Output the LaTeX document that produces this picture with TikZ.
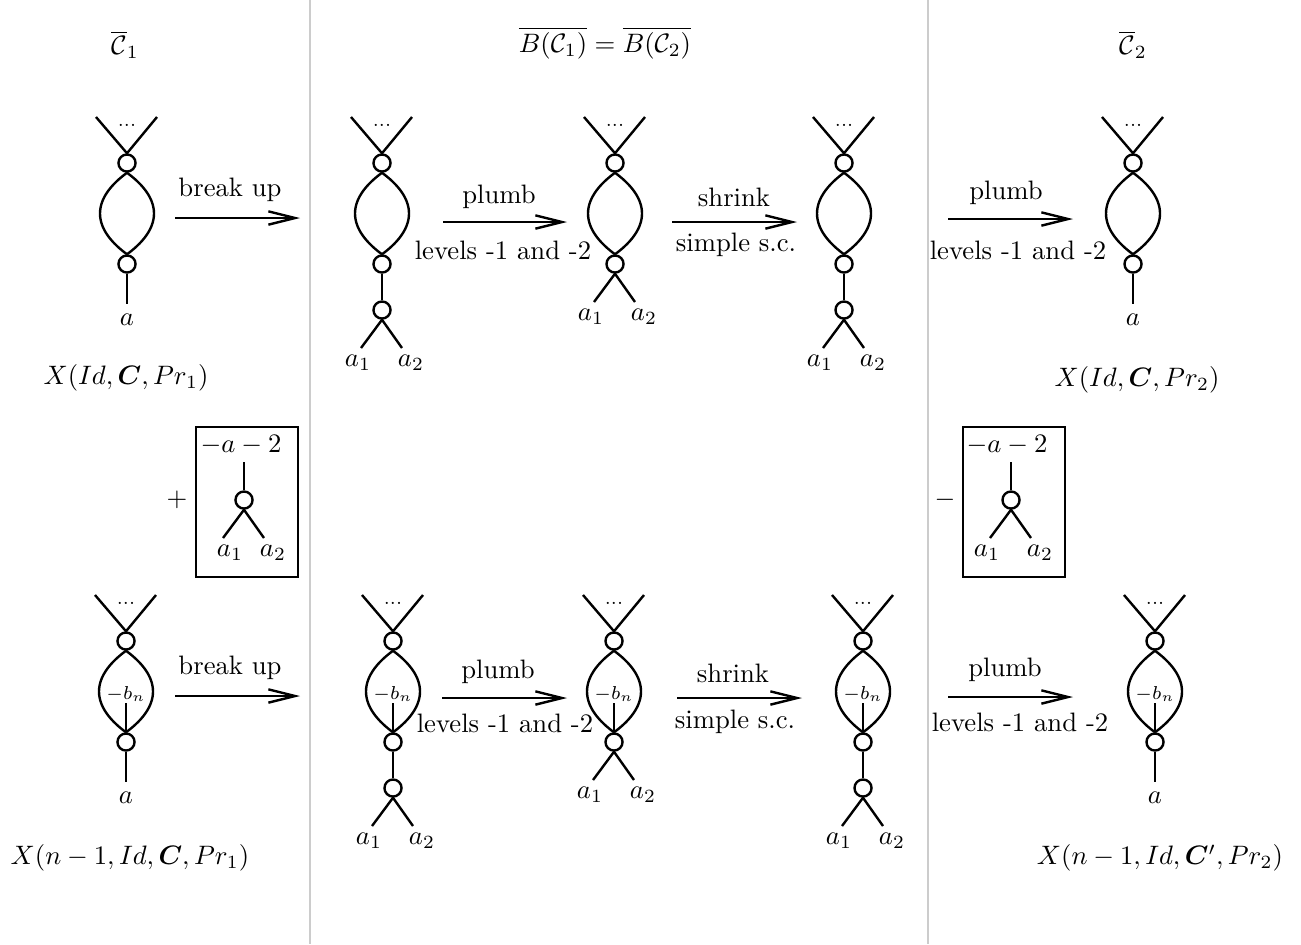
\documentclass[tikz,border=0pt]{standalone}
\usepackage{amsmath,amssymb,bm}
\usetikzlibrary{arrows.meta}
\tikzset{
  conn/.style={line width=0.9pt},
  vtx/.style={circle,draw,line width=0.9pt,minimum size=6.4pt,inner sep=0pt},
  arr/.style={line width=0.9pt,-{Straight Barb[length=10pt,width=5pt]}},
  divider/.style={draw=black!20,line width=0.8pt},
  boxst/.style={draw,line width=0.9pt,minimum width=38.2pt,minimum height=56.3pt,inner sep=0pt},
  lbl/.style={inner sep=1pt},
  small/.style={font=\scriptsize,inner sep=0.5pt},
}
\newcommand\GCore{%
  \node[vtx] (-t) at (0,0) {};
  \node[vtx] (-b) at (0,101) {};
  \coordinate (-l) at (-31,-46);
  \coordinate (-r) at (30,-46);
  \draw[conn] (-l) -- (-t.north) -- (-r);
  \node[small,anchor=base] (-d) at (0,-37) {...};
  \draw[conn] (-t.south) .. controls (-14,20) and (-27,34) .. (-27,50.5)
     .. controls (-27,67) and (-14,81) .. (-b.north);
  \draw[conn] (-t.south) .. controls (14,20) and (27,34) .. (27,50.5)
     .. controls (27,67) and (14,81) .. (-b.north);
}
\newcommand\GBn{%
  \node[small] (-bn) at (0,53) {$-b_n$};
  \coordinate (-bs) at (0,62);
  \draw[conn] (-bs) -- (-b.north);
}
\newcommand\GTailA{%
  \coordinate (-e) at (0,141);
  \draw[conn] (-b) -- (-e);
  \node[lbl] (-a) at (0,157) {$a$};
}
\newcommand\GTailS{%
  \coordinate (-e1) at (-21,139);
  \coordinate (-e2) at (20,139);
  \draw[conn] (-e1) -- (-b.south) -- (-e2);
  \node[lbl] (-a1) at (-24,154) {$a_1$};
  \node[lbl] (-a2) at (29,154) {$a_2$};
}
\newcommand\GTailC{%
  \node[vtx] (-c) at (0,147) {};
  \draw[conn] (-b) -- (-c);
  \coordinate (-e1) at (-21,185);
  \coordinate (-e2) at (20,185);
  \draw[conn] (-e1) -- (-c.south) -- (-e2);
  \node[lbl] (-a1) at (-24,200) {$a_1$};
  \node[lbl] (-a2) at (29,200) {$a_2$};
}
\tikzset{
  pics/ga/.style={code={\GCore\GTailA}},
  pics/gs/.style={code={\GCore\GTailS}},
  pics/gc/.style={code={\GCore\GTailC}},
  pics/gab/.style={code={\GCore\GBn\GTailA}},
  pics/gsb/.style={code={\GCore\GBn\GTailS}},
  pics/gcb/.style={code={\GCore\GBn\GTailC}},
}
\begin{document}
\begin{tikzpicture}[x=0.375pt,y=-0.375pt]
\useasboundingbox (0,0) rectangle (1301,944);

% dividers
\coordinate (dv1t) at (310,0); \coordinate (dv1b) at (310,944);
\coordinate (dv2t) at (928,0); \coordinate (dv2b) at (928,944);
\draw[divider] (dv1t) -- (dv1b);
\draw[divider] (dv2t) -- (dv2b);

% headers
\node (h1) at (125,45) {$\overline{\mathcal{C}}_1$};
\node (h2) at (605,43) {$\overline{B(\mathcal{C}_1)}=\overline{B(\mathcal{C}_2)}$};
\node (h3) at (1133,45) {$\overline{\mathcal{C}}_2$};

% ---------- top row ----------
\pic (A1) at (127,163) {ga};
\pic (A2) at (382,163) {gc};
\pic (A3) at (615,163) {gs};
\pic (A4) at (844,163) {gc};
\pic (A5) at (1133,163) {ga};

\coordinate (r1s) at (175,218); \coordinate (r1e) at (300,218);
\draw[arr] (r1s) -- (r1e);
\node (r1t) at (230,190) {break up};

\coordinate (r2s) at (443,222); \coordinate (r2e) at (567,222);
\draw[arr] (r2s) -- (r2e);
\node (r2t) at (499,197) {plumb};
\node (r2b) at (503,250) {levels -1 and -2};

\coordinate (r3s) at (672,222); \coordinate (r3e) at (797,222);
\draw[arr] (r3s) -- (r3e);
\node (r3t) at (734,197) {shrink};
\node (r3b) at (736,245) {simple s.c.};

\coordinate (r4s) at (948,219); \coordinate (r4e) at (1073,219);
\draw[arr] (r4s) -- (r4e);
\node (r4t) at (1006,193) {plumb};
\node (r4b) at (1018,250) {levels -1 and -2};

\node (XA1) at (126,378) {$X(Id,\bm{C},Pr_1)$};
\node (XA5) at (1137,380) {$X(Id,\bm{C},Pr_2)$};

% ---------- boxes ----------
\node (plus) at (177,500) {$+$};
\node[boxst] (BL) at (247,502) {};
\node[lbl] (BLt) at (241,445) {$-a-2$};
\node[vtx] (BLc) at (244,500) {};
\coordinate (BLs) at (244,462);
\draw[conn] (BLs) -- (BLc);
\coordinate (BLe1) at (223,538); \coordinate (BLe2) at (264,538);
\draw[conn] (BLe1) -- (BLc.south) -- (BLe2);
\node[lbl] (BLa1) at (230,553) {$a_1$};
\node[lbl] (BLa2) at (273,553) {$a_2$};

\node (minus) at (945,500) {$-$};
\node[boxst] (BR) at (1014,502) {};
\node[lbl] (BRt) at (1007,445) {$-a-2$};
\node[vtx] (BRc) at (1011,500) {};
\coordinate (BRs) at (1011,462);
\draw[conn] (BRs) -- (BRc);
\coordinate (BRe1) at (990,538); \coordinate (BRe2) at (1031,538);
\draw[conn] (BRe1) -- (BRc.south) -- (BRe2);
\node[lbl] (BRa1) at (987,553) {$a_1$};
\node[lbl] (BRa2) at (1040,553) {$a_2$};

% ---------- bottom row ----------
\pic (B1) at (126,641) {gab};
\pic (B2) at (393,641) {gcb};
\pic (B3) at (614,641) {gsb};
\pic (B4) at (863,641) {gcb};
\pic (B5) at (1155,641) {gab};

\coordinate (s1s) at (175,696); \coordinate (s1e) at (300,696);
\draw[arr] (s1s) -- (s1e);
\node (s1t) at (230,668) {break up};

\coordinate (s2s) at (442,698); \coordinate (s2e) at (567,698);
\draw[arr] (s2s) -- (s2e);
\node (s2t) at (498,672) {plumb};
\node (s2b) at (505,723) {levels -1 and -2};

\coordinate (s3s) at (677,698); \coordinate (s3e) at (802,698);
\draw[arr] (s3s) -- (s3e);
\node (s3t) at (733,673) {shrink};
\node (s3b) at (735,722) {simple s.c.};

\coordinate (s4s) at (948,697); \coordinate (s4e) at (1073,697);
\draw[arr] (s4s) -- (s4e);
\node (s4t) at (1005,670) {plumb};
\node (s4b) at (1020,722) {levels -1 and -2};

\node (XB1) at (130,858) {$X(n-1,Id,\bm{C},Pr_1)$};
\node (XB5) at (1160,858) {$X(n-1,Id,\bm{C}',Pr_2)$};
\end{tikzpicture}
\end{document}
